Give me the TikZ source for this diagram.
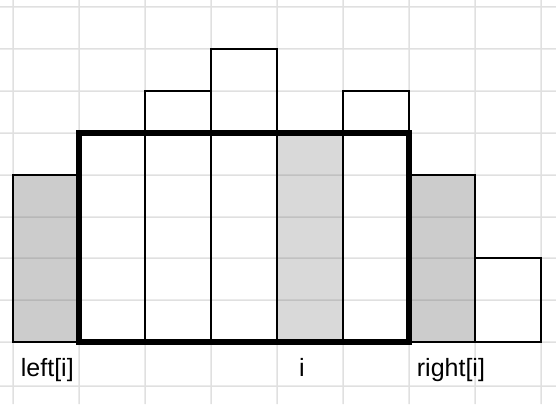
\documentclass[tikz,border=0pt]{standalone}
\usepackage{fontspec}
\setmainfont{Liberation Sans}
\begin{document}
\begin{tikzpicture}[x=1pt,y=-1pt,
  gridline/.style={draw=black!58,line width=1.5pt},
  bar/.style={draw=black,line width=2pt},
  window/.style={draw=black,line width=5.5pt},
  lbl/.style={anchor=base west,inner sep=0pt,font=\fontsize{25}{30}\selectfont}]

\useasboundingbox (0,0) rectangle (556,404);

% shaded bars
\fill[black!20] (13,175) rectangle (79,342);
\fill[black!20] (409,175) rectangle (475,342);
\fill[black!15] (277,133) rectangle (343,342);

% spreadsheet grid
\begin{scope}[transparency group,opacity=0.21]
\foreach \x in {13,79,...,541} \draw[gridline] (\x,0) -- (\x,404);
\foreach \y in {7,49,91,133,175,217,258,300,342,386} \draw[gridline] (0,\y) -- (556,\y);
\end{scope}

% bars
\foreach \x/\h in {13/175,79/133,145/91,211/49,277/133,343/91,409/175,475/258}
  \draw[bar] (\x,\h) rectangle ++(66,342-\h);

% window between left[i] and right[i]
\draw[window] (79,133) rectangle (409,342);

\node[lbl] (left) at (20.7,376.7) {left[i]};
\node[lbl] (mid) at (299,376.7) {i};
\node[lbl] (right) at (416.7,376.7) {right[i]};

\end{tikzpicture}
\end{document}
